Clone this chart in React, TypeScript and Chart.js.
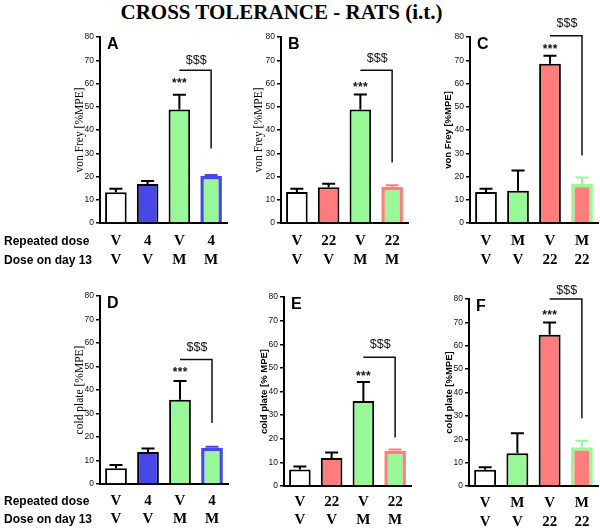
import React, { useEffect, useRef } from "react";
import { Chart, registerables } from "chart.js";
Chart.register(...registerables);

// ---------- data ----------
const repeatedA = ["V", "4", "V", "4"];
const day13A = ["V", "V", "M", "M"];
const repeatedB = ["V", "22", "V", "22"];
const day13B = ["V", "V", "M", "M"];
const repeatedC = ["V", "M", "V", "M"];
const day13C = ["V", "V", "22", "22"];

const vonFreyA = [13.2, 16.8, 48.8, 20.2];
const vonFreyA_sem = [1.5, 1.3, 6.4, 0.4];
const vonFreyB = [13.3, 15.4, 48.8, 15.5];
const vonFreyB_sem = [1.4, 1.5, 6.5, 0.7];
const vonFreyC = [13.3, 13.9, 68.5, 16.9];
const vonFreyC_sem = [1.4, 8.7, 3.4, 2.7];
const coldPlateD = [6.7, 13.6, 35.8, 15.4];
const coldPlateD_sem = [1.4, 1.5, 8.0, 0.5];
const coldPlateE = [7.0, 11.8, 36.0, 14.9];
const coldPlateE_sem = [1.3, 2.4, 8.0, 0.5];
const coldPlateF = [6.9, 14.0, 64.7, 16.6];
const coldPlateF_sem = [1.1, 8.6, 5.3, 2.8];

const yTicksMax = 80;
const yTickStep = 10;

// significance annotations: [starsY, dollarTextY, bracketTopY, bracketBottomY]
const sigA = [61, 70, 65.7, 32];
const sigB = [59.3, 70.6, 65.7, 26];
const sigC = [76, 86, 80.5, 29];
const sigD = [48.5, 58, 53, 26];
const sigE = [47.7, 59.8, 54.5, 20.5];
const sigF = [74.3, 83.7, 80, 29];

// ---------- styles ----------
const WHITE = "#ffffff";
const BLUE = "#4848e6";
const GREEN = "#98f898";
const RED = "#ff7c7c";
const BLACK = "#000000";

const SERIF = "'Liberation Serif', 'Times New Roman', serif";
const SANS = "'Liberation Sans', Arial, sans-serif";

type PanelCfg = {
  letter: string;
  values: number[];
  sem: number[];
  sig: number[];
  repeated: string[];
  day13: string[];
  fills: string[];
  borders: string[];
  borderWidths: number[];
  title: string;
  titleSerif: boolean;
  left: number;
  right: number;
  top: number;
  bottom: number;
  titleX: number;
  tickPad: number;
  lineH: number;
};

const colsA = { fills: [WHITE, BLUE, GREEN, GREEN], borders: [BLACK, BLACK, BLACK, BLUE] };
const colsB = { fills: [WHITE, RED, GREEN, GREEN], borders: [BLACK, BLACK, BLACK, RED] };
const colsC = { fills: [WHITE, GREEN, RED, RED], borders: [BLACK, BLACK, BLACK, GREEN] };
const bw = [2, 2, 2, 3.5];

const panels: PanelCfg[] = [
  { letter: "A", values: vonFreyA, sem: vonFreyA_sem, sig: sigA, repeated: repeatedA, day13: day13A, ...colsA, borderWidths: bw,
    title: "von Frey [%MPE]", titleSerif: true, left: 100, right: 227, top: 37, bottom: 223, titleX: 80, tickPad: 9, lineH: 19 },
  { letter: "B", values: vonFreyB, sem: vonFreyB_sem, sig: sigB, repeated: repeatedB, day13: day13B, ...colsB, borderWidths: bw,
    title: "von Frey [%MPE]", titleSerif: true, left: 281, right: 408, top: 37, bottom: 223, titleX: 259, tickPad: 9, lineH: 19 },
  { letter: "C", values: vonFreyC, sem: vonFreyC_sem, sig: sigC, repeated: repeatedC, day13: day13C, ...colsC, borderWidths: bw,
    title: "von Frey [%MPE]", titleSerif: false, left: 470, right: 598, top: 37, bottom: 223, titleX: 448, tickPad: 9, lineH: 19 },
  { letter: "D", values: coldPlateD, sem: coldPlateD_sem, sig: sigD, repeated: repeatedA, day13: day13A, ...colsA, borderWidths: bw,
    title: "cold plate [%MPE]", titleSerif: true, left: 100, right: 228, top: 296, bottom: 484, titleX: 80, tickPad: 8, lineH: 18 },
  { letter: "E", values: coldPlateE, sem: coldPlateE_sem, sig: sigE, repeated: repeatedB, day13: day13B, ...colsB, borderWidths: bw,
    title: "cold plate [% MPE]", titleSerif: false, left: 284, right: 411, top: 297, bottom: 486, titleX: 264, tickPad: 7.5, lineH: 17.5 },
  { letter: "F", values: coldPlateF, sem: coldPlateF_sem, sig: sigF, repeated: repeatedC, day13: day13C, ...colsC, borderWidths: bw,
    title: "cold plate [%MPE]", titleSerif: false, left: 469, right: 598, top: 299, bottom: 486, titleX: 449, tickPad: 7.5, lineH: 19 },
];

const Y_W = 45;
const PAD_TOP = 30;
const X_H = 50;
const PAD_R = 4;

function Panel({ cfg }: { cfg: PanelCfg }) {
  const ref = useRef<HTMLCanvasElement>(null);
  const canvasLeft = cfg.left - Y_W;
  const canvasTop = cfg.top - PAD_TOP;
  const width = cfg.right + PAD_R - canvasLeft;
  const height = cfg.bottom - canvasTop + X_H;

  useEffect(() => {
    if (!ref.current) return;
    const titleFont = cfg.titleSerif
      ? { family: SERIF, size: 11.5, weight: "normal" as const, lineHeight: 1.2 }
      : { family: SANS, size: 9.5, weight: "bold" as const, lineHeight: 1.2 };
    const lh = titleFont.size * 1.2;
    const titlePadTop = cfg.titleX - canvasLeft - lh / 2;

    const extras = {
      id: "extras",
      afterDraw(chart: any) {
        const { ctx, scales, chartArea } = chart;
        const x = scales.x, y = scales.y;
        ctx.save();
        // error bars
        cfg.values.forEach((v, i) => {
          const px = x.getPixelForValue(i);
          const y1 = y.getPixelForValue(v);
          const y2 = y.getPixelForValue(v + cfg.sem[i]);
          ctx.strokeStyle = cfg.borders[i];
          ctx.lineWidth = 2;
          ctx.beginPath();
          ctx.moveTo(px, y1);
          ctx.lineTo(px, y2);
          ctx.moveTo(px - 6.5, y2);
          ctx.lineTo(px + 6.5, y2);
          ctx.stroke();
        });
        const x3 = x.getPixelForValue(2);
        const x4 = x.getPixelForValue(3);
        const [starsY, dollarY, brTop, brBottom] = cfg.sig;
        // stars
        ctx.fillStyle = "#111";
        ctx.textAlign = "center";
        ctx.textBaseline = "middle";
        ctx.font = `bold 12px ${SANS}`;
        const sy = y.getPixelForValue(starsY) + 3;
        [-5, 0, 5].forEach((dx) => ctx.fillText("*", x3 + dx, sy));
        // bracket
        ctx.strokeStyle = "#111";
        ctx.lineWidth = 1.5;
        ctx.beginPath();
        ctx.moveTo(x3, y.getPixelForValue(brTop));
        ctx.lineTo(x4, y.getPixelForValue(brTop));
        ctx.lineTo(x4, y.getPixelForValue(brBottom));
        ctx.stroke();
        ctx.font = `12.5px ${SANS}`;
        ctx.fillText("$$$", (x3 + x4) / 2 + 1, y.getPixelForValue(dollarY));
        // panel letter
        ctx.textAlign = "left";
        ctx.textBaseline = "alphabetic";
        ctx.font = `bold 16px ${SANS}`;
        ctx.fillStyle = "#000";
        ctx.fillText(cfg.letter, chartArea.left + 7, chartArea.top + 12);
        ctx.restore();
      },
    };

    const chart = new Chart(ref.current, {
      type: "bar",
      data: {
        labels: cfg.repeated.map((r, i) => [r, cfg.day13[i]]),
        datasets: [
          {
            data: cfg.values,
            backgroundColor: cfg.fills,
            borderColor: cfg.borders,
            borderWidth: cfg.borderWidths,
            borderSkipped: "start",
            barPercentage: 0.68,
            categoryPercentage: 1,
          },
        ],
      },
      options: {
        responsive: false,
        animation: false,
        events: [],
        layout: { padding: { left: 0, top: PAD_TOP, right: PAD_R, bottom: 0 } },
        plugins: { legend: { display: false }, tooltip: { enabled: false } },
        scales: {
          x: {
            type: "category",
            offset: true,
            z: 1,
            grid: { display: false, drawTicks: false },
            border: { display: true, color: "#000", width: 2 },
            ticks: {
              autoSkip: false,
              maxRotation: 0,
              padding: cfg.tickPad,
              color: "#000",
              font: { family: SERIF, size: 15, weight: "bold", lineHeight: cfg.lineH / 15 },
            },
            afterFit: (s: any) => { s.height = X_H; },
          },
          y: {
            min: 0,
            max: yTicksMax,
            z: 1,
            ticks: { stepSize: yTickStep, padding: 2, color: "#111", font: { family: SANS, size: 8.5 } },
            grid: { display: true, drawOnChartArea: false, drawTicks: true, tickLength: 4, color: "#000", lineWidth: 1.5 },
            border: { display: true, color: "#000", width: 2 },
            title: {
              display: true,
              text: cfg.title,
              color: "#000",
              font: titleFont,
              padding: { top: titlePadTop, bottom: 0 },
            },
            afterFit: (s: any) => { s.width = Y_W; },
          },
        },
      },
      plugins: [extras],
    } as any);
    return () => chart.destroy();
  }, [cfg]);

  return (
    <canvas
      ref={ref}
      width={width}
      height={height}
      style={{ position: "absolute", left: canvasLeft, top: canvasTop, width, height }}
    />
  );
}

const rowLabelStyle = (cy: number): React.CSSProperties => ({
  position: "absolute",
  left: 4,
  top: cy - 8,
  height: 16,
  lineHeight: "16px",
  fontFamily: SANS,
  fontWeight: "bold",
  fontSize: 12,
  color: "#000",
  whiteSpace: "nowrap",
});

export default function App() {
  return (
    <div style={{ position: "absolute", left: 0, top: 0, width: 600, height: 530, overflow: "hidden", background: "#fff" }}>
      <div
        style={{
          position: "absolute",
          left: 0,
          top: 0,
          width: 563,
          textAlign: "center",
          fontFamily: SERIF,
          fontWeight: "bold",
          fontSize: 21,
          lineHeight: "25px",
          color: "#000",
        }}
      >
        CROSS TOLERANCE - RATS (i.t.)
      </div>
      {panels.map((p) => (
        <Panel key={p.letter} cfg={p} />
      ))}
      <div style={rowLabelStyle(241)}>Repeated dose</div>
      <div style={rowLabelStyle(260)}>Dose on day 13</div>
      <div style={rowLabelStyle(501)}>Repeated dose</div>
      <div style={rowLabelStyle(519)}>Dose on day 13</div>
    </div>
  );
}
